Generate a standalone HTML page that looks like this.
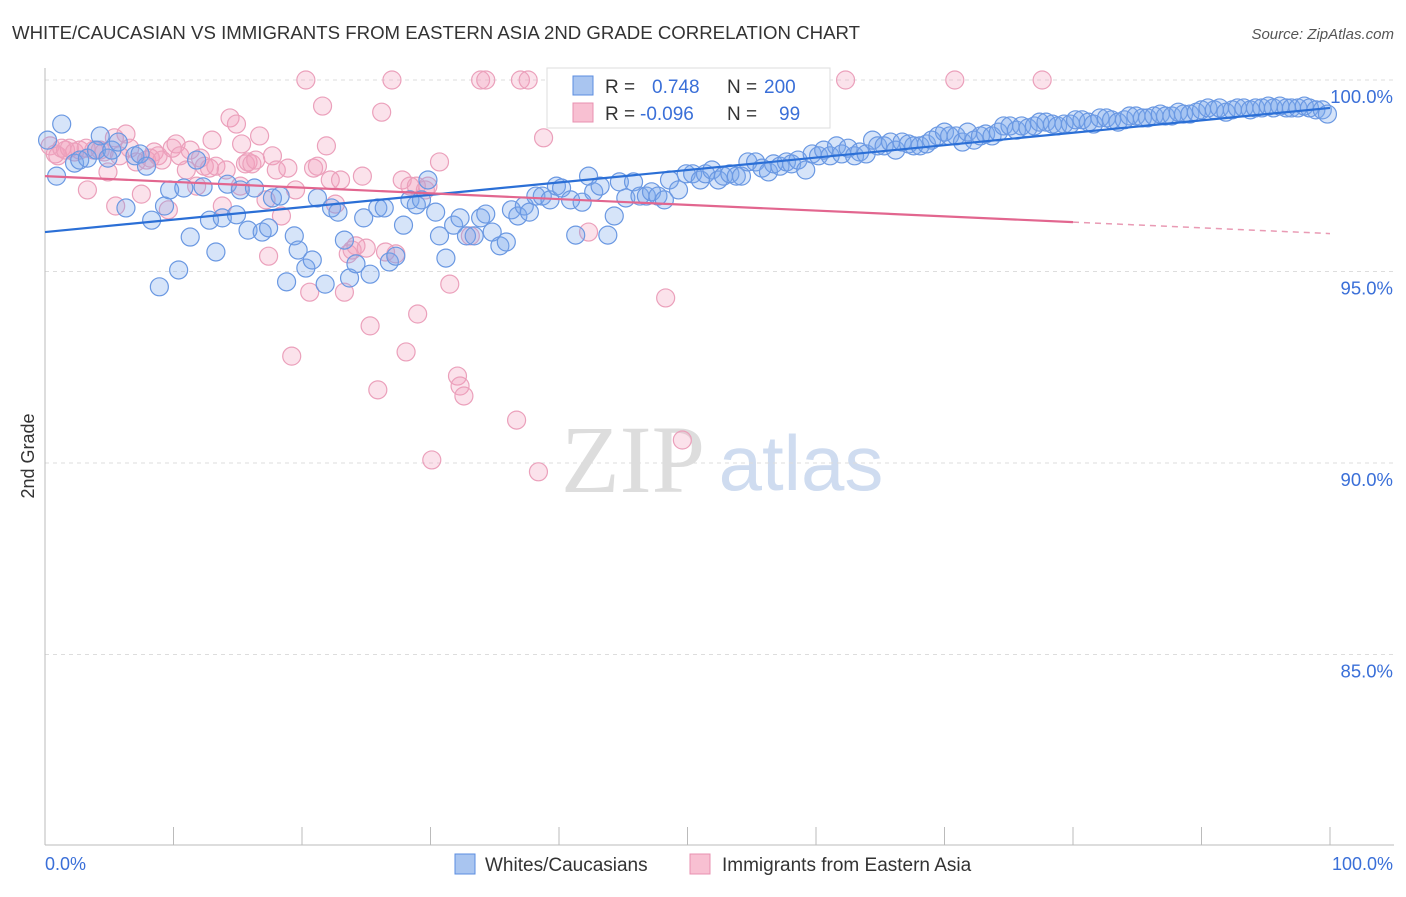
<!DOCTYPE html>
<html><head><meta charset="utf-8"><style>
body{margin:0;background:#fff;font-family:"Liberation Sans",sans-serif;}
svg text{font-family:"Liberation Sans",sans-serif;}
</style></head><body>
<svg id="chart" width="1406" height="892" viewBox="0 0 1406 892">
<text x="12" y="39" font-size="18" fill="#333" textLength="848" lengthAdjust="spacingAndGlyphs">WHITE/CAUCASIAN VS IMMIGRANTS FROM EASTERN ASIA 2ND GRADE CORRELATION CHART</text>
<text x="1394" y="39" font-size="15" fill="#555" text-anchor="end" font-style="italic">Source: ZipAtlas.com</text>
<text transform="translate(34,456) rotate(-90)" font-size="18" fill="#333" text-anchor="middle">2nd Grade</text>
<g>
<text x="633" y="492" font-size="96" fill="#ddd" text-anchor="middle" font-family="Liberation Serif" style="font-family:'Liberation Serif',serif">ZIP</text>
<text x="801" y="490" font-size="78" fill="#cfdcf0" text-anchor="middle">atlas</text>
</g>
<g id="grid"></g>
<g id="axes"></g>
<g id="pinkPts"></g>
<g id="bluePts"></g>
<g id="trends"></g>
<g>
<rect x="547" y="68" width="283" height="60" fill="#fff" stroke="#ddd"/>
<rect x="573" y="76" width="20" height="19" fill="#a9c5f0" stroke="#5b8de0"/>
<rect x="573" y="103" width="20" height="19" fill="#f8c0d2" stroke="#e890b0"/>
<text x="605" y="93" font-size="19" fill="#333">R = </text><text x="652" y="93" font-size="19" fill="#3a6fd8">0.748</text>
<text x="727" y="93" font-size="19" fill="#333">N = </text><text x="764" y="93" font-size="19" fill="#3a6fd8">200</text>
<text x="605" y="120" font-size="19" fill="#333">R = </text><text x="640" y="120" font-size="19" fill="#3a6fd8">-0.096</text>
<text x="727" y="120" font-size="19" fill="#333">N = </text><text x="779" y="120" font-size="19" fill="#3a6fd8">99</text>
</g>
<g>
<rect x="455" y="854" width="20" height="20" fill="#a9c5f0" stroke="#5b8de0"/>
<text x="485" y="871" font-size="19" fill="#333">Whites/Caucasians</text>
<rect x="690" y="854" width="20" height="20" fill="#f8c0d2" stroke="#e890b0"/>
<text x="722" y="871" font-size="19" fill="#333">Immigrants from Eastern Asia</text>
</g>
</svg>
<script>
const blueX=[0.2,1.3,0.9,2.3,2.7,3.3,4.3,4.0,4.9,5.2,5.7,6.3,7.0,7.4,7.9,8.3,8.9,9.3,9.7,10.4,10.8,11.3,11.8,12.3,12.8,13.3,13.8,14.2,14.9,15.2,15.8,16.3,16.9,17.4,17.7,18.3,18.8,19.4,19.7,20.3,20.8,21.2,21.8,22.3,22.8,23.3,23.7,24.2,24.8,25.3,25.9,26.4,26.8,27.3,27.9,28.4,28.9,29.3,29.8,30.4,30.7,31.2,31.8,32.3,32.8,33.4,33.9,34.3,34.8,35.4,35.9,36.3,36.8,37.3,37.7,38.2,38.7,39.3,39.8,40.2,40.9,41.3,41.8,42.3,42.7,43.2,43.8,44.3,44.7,45.2,45.8,46.3,46.8,47.2,47.7,48.2,48.6,49.3,49.9,50.4,51.0,51.4,51.9,52.4,52.8,53.3,53.8,54.2,54.7,55.3,55.8,56.3,56.7,57.2,57.7,58.1,58.6,59.2,59.7,60.2,60.6,61.1,61.6,62.0,62.5,63.0,63.4,63.9,64.4,64.8,65.3,65.8,66.2,66.7,67.2,67.6,68.1,68.6,69.0,69.5,70.0,70.4,70.9,71.4,71.8,72.3,72.8,73.2,73.7,74.2,74.6,75.1,75.6,76.0,76.5,77.0,77.4,77.9,78.4,78.8,79.3,79.8,80.2,80.7,81.2,81.6,82.1,82.6,83.0,83.5,84.0,84.4,84.9,85.4,85.8,86.3,86.8,87.2,87.7,88.2,88.6,89.1,89.6,90.0,90.5,91.0,91.4,91.9,92.4,92.8,93.3,93.8,94.2,94.7,95.2,95.6,96.1,96.6,97.0,97.5,98.0,98.4,98.9,99.4,99.8];
const blueY=[98.43,98.85,97.49,97.83,97.91,97.96,98.54,98.17,97.96,98.17,98.38,96.66,98.02,98.07,97.75,96.34,94.60,96.71,97.13,95.04,97.18,95.90,97.91,97.21,96.34,95.51,96.40,97.28,96.48,97.13,96.08,97.18,96.03,96.14,96.92,96.97,94.73,95.93,95.56,95.09,95.30,96.92,94.67,96.66,96.55,95.82,94.83,95.20,96.40,94.93,96.66,96.66,95.25,95.40,96.21,96.87,96.74,96.87,97.39,96.55,95.93,95.35,96.21,96.40,95.93,95.93,96.40,96.50,96.03,95.67,95.77,96.61,96.45,96.71,96.55,96.97,96.97,96.87,97.23,97.18,96.87,95.95,96.81,97.49,97.08,97.23,95.95,96.45,97.34,96.92,97.34,96.97,96.97,97.08,96.97,96.87,97.39,97.13,97.55,97.55,97.39,97.55,97.65,97.39,97.49,97.55,97.49,97.49,97.86,97.86,97.70,97.60,97.81,97.75,97.86,97.81,97.91,97.65,98.07,98.02,98.17,98.02,98.28,98.07,98.22,98.02,98.12,98.07,98.43,98.28,98.28,98.38,98.17,98.38,98.33,98.28,98.28,98.33,98.43,98.54,98.64,98.54,98.54,98.38,98.64,98.43,98.54,98.59,98.54,98.64,98.80,98.80,98.69,98.80,98.75,98.80,98.90,98.90,98.85,98.80,98.85,98.85,98.96,98.96,98.90,98.85,99.01,99.01,98.96,98.90,98.96,99.06,99.06,99.01,99.01,99.06,99.11,99.06,99.06,99.16,99.11,99.11,99.16,99.22,99.27,99.22,99.27,99.16,99.22,99.27,99.27,99.22,99.27,99.27,99.32,99.27,99.32,99.27,99.27,99.27,99.32,99.27,99.22,99.22,99.11];
const pinkX=[0.4,0.8,1.0,1.3,1.6,1.9,2.3,2.7,3.2,3.3,3.8,4.3,4.6,4.9,5.4,5.5,5.8,6.3,6.6,7.1,7.5,7.9,8.2,8.5,8.8,9.1,9.6,9.9,10.2,10.5,11.0,11.3,11.8,12.1,12.4,12.8,13.0,13.3,13.8,14.1,14.4,14.9,15.2,15.3,15.6,15.8,16.1,16.4,16.7,17.2,17.4,17.7,18.0,18.4,18.9,19.2,19.5,20.3,20.6,20.9,21.2,21.6,21.9,22.2,22.6,23.0,23.3,23.6,23.9,24.2,24.7,25.0,25.3,25.9,26.2,26.5,27.0,27.3,27.8,28.1,28.4,28.9,29.0,29.6,29.8,30.1,30.7,31.5,32.1,32.3,32.6,33.1,33.9,34.3,36.7,37.0,37.6,38.4,38.8,39.8,42.3,48.3,49.6,53.0,62.3,70.8,77.6];
const pinkY=[98.28,98.07,98.02,98.22,98.17,98.22,98.12,98.17,98.22,97.13,98.17,98.17,98.12,97.60,98.49,96.71,98.02,98.59,98.22,97.86,97.02,97.91,97.96,98.12,98.02,97.91,96.61,98.22,98.33,98.02,97.65,98.17,97.23,97.96,97.75,97.70,98.43,97.75,96.71,97.65,99.01,98.85,97.23,98.33,97.81,97.86,97.81,97.91,98.54,96.87,95.40,98.02,97.65,96.45,97.70,92.79,97.13,100,94.46,97.70,97.75,99.32,98.28,97.39,96.76,97.39,94.46,95.46,95.56,95.67,97.49,95.61,93.58,91.91,99.16,95.51,100,95.46,97.39,92.90,97.23,97.23,93.89,97.13,97.23,90.08,97.86,94.67,92.27,92.01,91.75,95.93,100,100,91.12,100,100,89.77,98.49,100,96.03,94.31,90.60,100,100,100,100];
const blueTrend=[96.03,99.27];
const pinkTrend=[97.49,96.29,95.99];
const pinkTrendX=[0,80,100];
const yTicks=[100,95,90,85];
const yTickLabels=["100.0%","95.0%","90.0%","85.0%"];
const xTicks=[0,10,20,30,40,50,60,70,80,90,100];
const NS="http://www.w3.org/2000/svg";
const X0=45,X1=1330,Y100=80,PXPER=38.3;
function xs(v){return X0+(X1-X0)*v/100;}
function ys(v){return Y100+(100-v)*PXPER;}
function mk(tag,attrs,parent){const e=document.createElementNS(NS,tag);for(const k in attrs)e.setAttribute(k,attrs[k]);parent.appendChild(e);return e;}
const grid=document.getElementById('grid'),axes=document.getElementById('axes');
yTicks.forEach((t,i)=>{
 const l=mk('line',{x1:X0,x2:1394,y1:ys(t),y2:ys(t),stroke:'#ddd','stroke-dasharray':'4,4'},grid);
 
 
 const tx=mk('text',{x:1393,y:ys(t)+23,'font-size':18.5,fill:'#3a6fd8','text-anchor':'end'},axes);
 tx.textContent=yTickLabels[i];
 
 
});
const ya=mk('line',{x1:X0,x2:X0,y1:68,y2:845,stroke:'#bbb'},axes);


const xa=mk('line',{x1:X0,x2:1394,y1:845,y2:845,stroke:'#bbb'},axes);


xTicks.forEach(t=>{
 const l=mk('line',{x1:xs(t),x2:xs(t),y1:827,y2:845,stroke:'#bbb'},axes);
 
 
});
const xl0=mk('text',{x:45,y:870,'font-size':18,fill:'#3a6fd8'},axes);xl0.textContent='0.0%';


const xl1=mk('text',{x:1393,y:870,'font-size':18,fill:'#3a6fd8','text-anchor':'end'},axes);xl1.textContent='100.0%';


const pg=document.getElementById('pinkPts');
pinkX.forEach((x,i)=>{
 const c=mk('circle',{cx:xs(x),cy:ys(pinkY[i]),r:9,fill:'rgba(242,160,190,0.3)',stroke:'#eba0bb','stroke-width':1.2},pg);
 
 
});
const bg=document.getElementById('bluePts');
blueX.forEach((x,i)=>{
 const c=mk('circle',{cx:xs(x),cy:ys(blueY[i]),r:9,fill:'rgba(120,165,235,0.3)',stroke:'#6a98e2','stroke-width':1.2},bg);
 
 
});
const tg=document.getElementById('trends');
const bt=mk('line',{x1:xs(0),y1:ys(blueTrend[0]),x2:xs(100),y2:ys(blueTrend[1]),stroke:'#2b6fd6','stroke-width':2.2},tg);


const pt=mk('line',{x1:xs(pinkTrendX[0]),y1:ys(pinkTrend[0]),x2:xs(pinkTrendX[1]),y2:ys(pinkTrend[1]),stroke:'#e2668f','stroke-width':2.2},tg);


const pd=mk('line',{x1:xs(pinkTrendX[1]),y1:ys(pinkTrend[1]),x2:xs(pinkTrendX[2]),y2:ys(pinkTrend[2]),stroke:'#e99ab4','stroke-width':1.5,'stroke-dasharray':'6,5'},tg);


</script>
</body></html>
